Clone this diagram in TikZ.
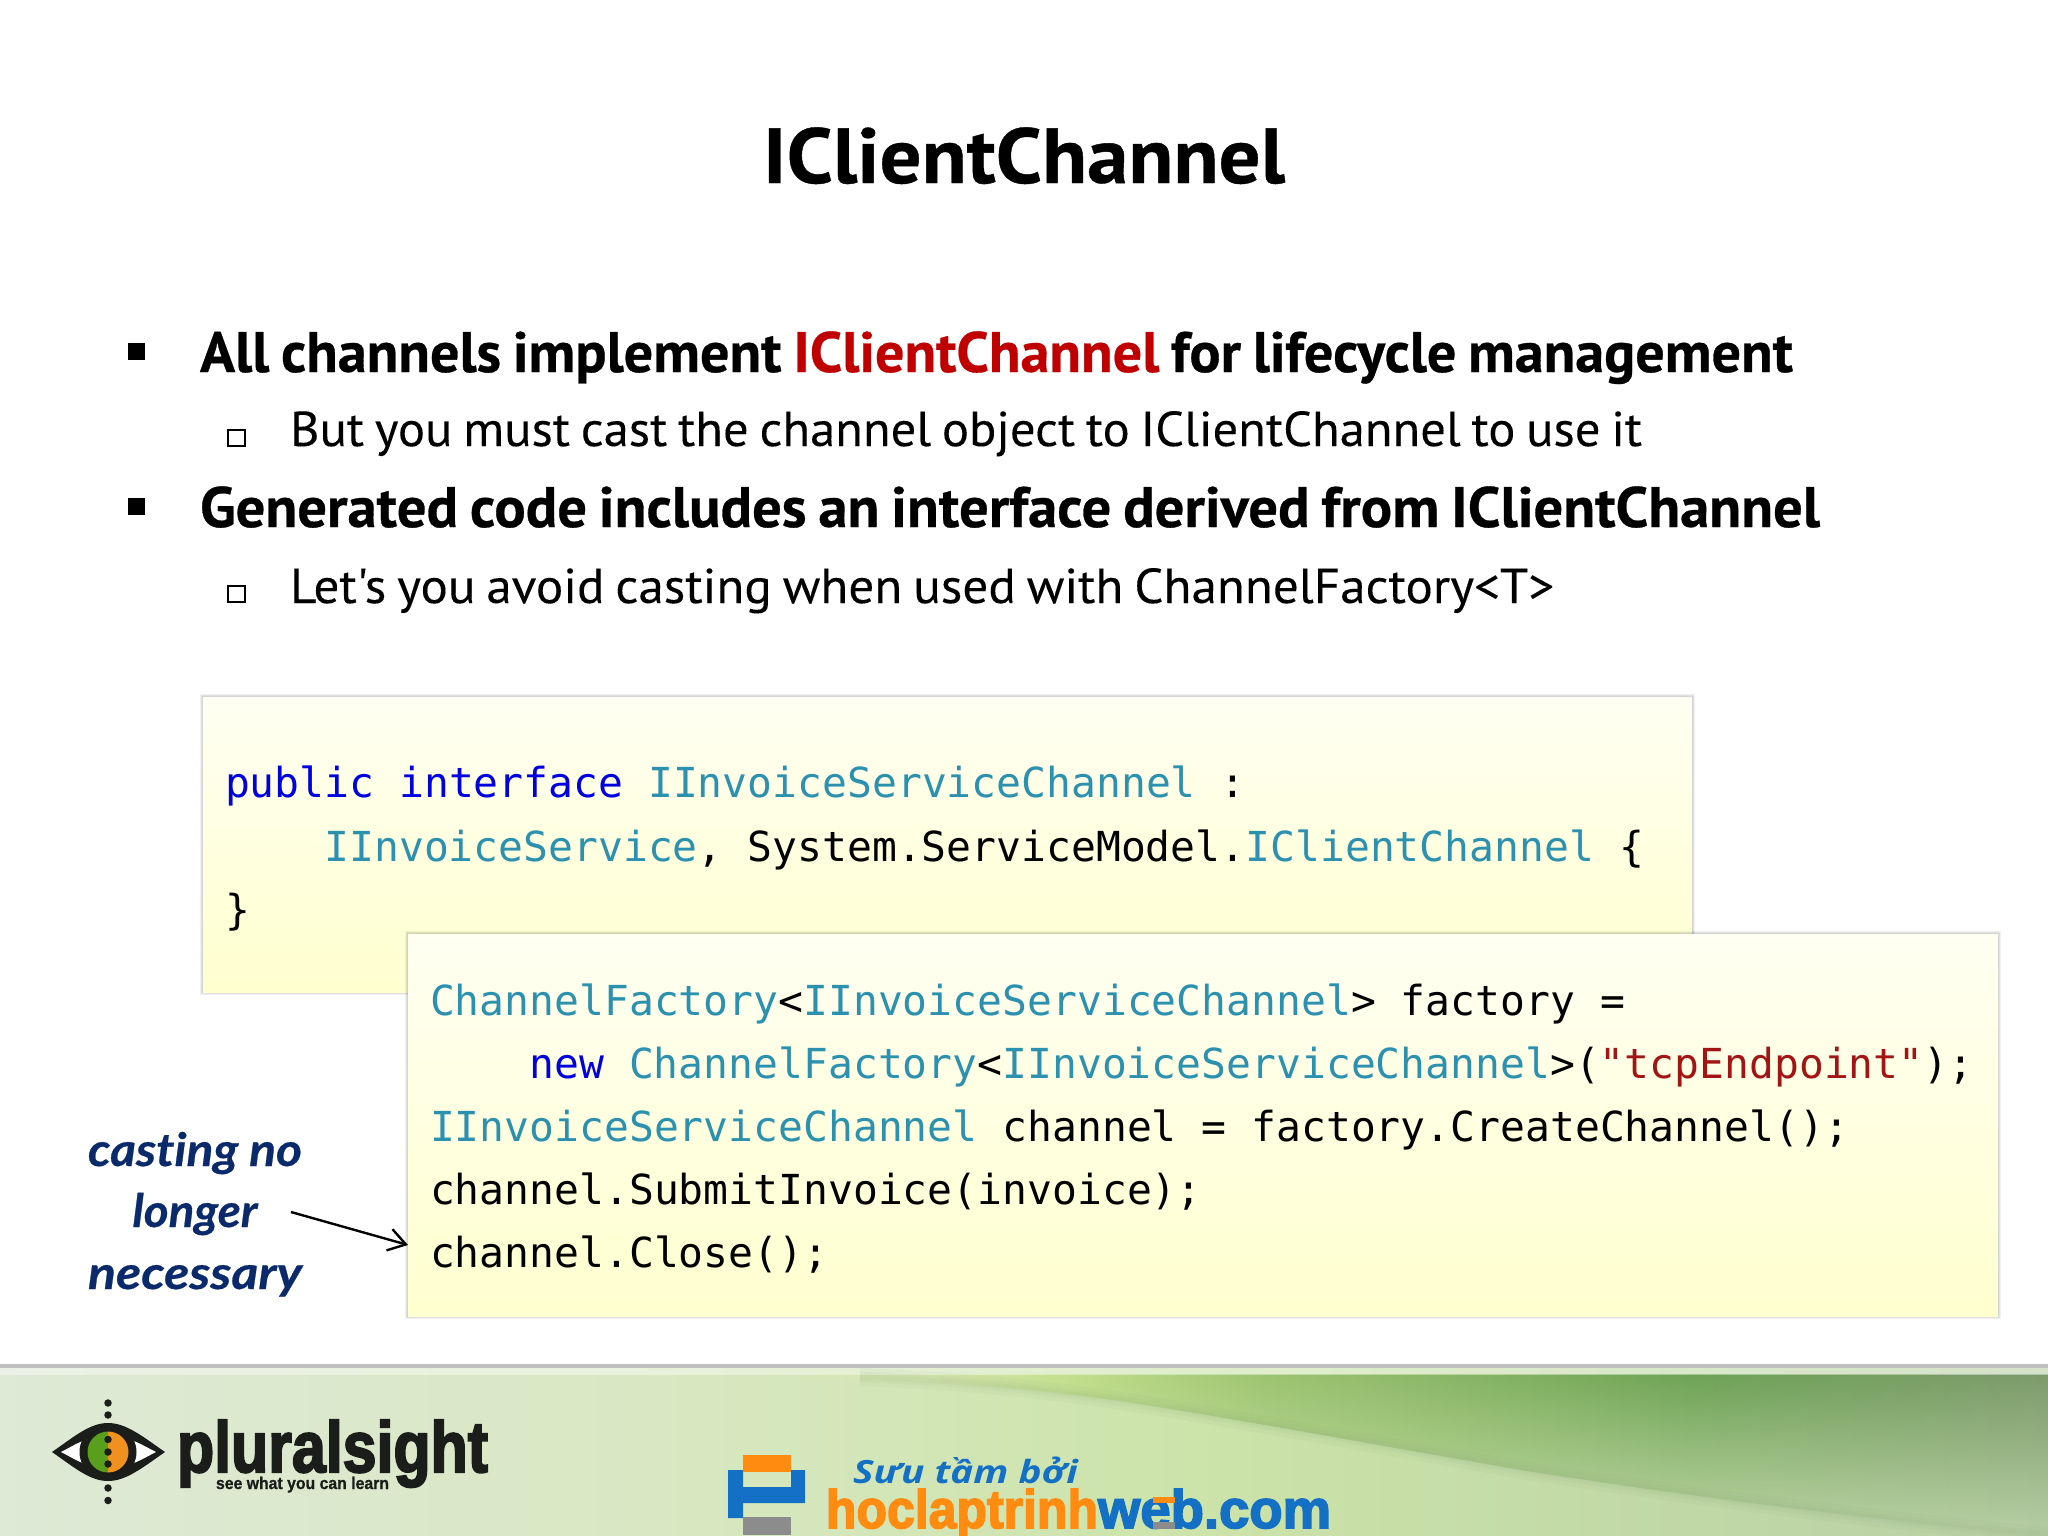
\documentclass[tikz,border=0pt]{standalone}
\usepackage{fontspec}
\usepackage{graphicx}
\usetikzlibrary{arrows.meta,fadings}
\setmainfont[BoldFeatures={FakeBold=0.5},WordSpace=0.8]{PT Sans}
\newfontfamily\subfont[WordSpace=0.8,FakeBold=0.15]{PT Sans}
\newfontfamily\codefont{DejaVu Sans Mono}
\newfontfamily\handfont[Ligatures=NoCommon,BoldItalicFeatures={FakeBold=0.5}]{Lato}
\newfontfamily\logofont[BoldFeatures={FakeBold=3}]{Liberation Sans}
\newfontfamily\tagfont[BoldFeatures={FakeBold=1}]{Liberation Sans}
\newfontfamily\viefont{Open Sans}
\definecolor{kwblue}{HTML}{0000E0}
\definecolor{tyteal}{HTML}{2B91AF}
\definecolor{strred}{HTML}{A31515}
\definecolor{hlred}{HTML}{C00000}
\definecolor{handblue}{HTML}{0B2A6B}
\definecolor{boxtop}{HTML}{FFFFF2}
\definecolor{boxbot}{HTML}{FFFFCF}
\definecolor{logoink}{HTML}{1A1D1A}
\definecolor{hocorange}{HTML}{FF8C10}
\definecolor{hocblue}{HTML}{1470C4}
\definecolor{irisgreen}{HTML}{5A9E1E}
\definecolor{irisorange}{HTML}{F0901E}
\definecolor{fba}{HTML}{DEE9D6}
\definecolor{fbb}{HTML}{D9E8C4}
\definecolor{fbc}{HTML}{CBE3A8}
\definecolor{fbd}{HTML}{B8CFA5}
\definecolor{fsa}{HTML}{D9E8C4}
\definecolor{fsb}{HTML}{D6E8B0}
\definecolor{fsc}{HTML}{C2DE8C}
\definecolor{fsd}{HTML}{9CC470}
\definecolor{fse}{HTML}{6EA356}
\definecolor{fsf}{HTML}{7D9B6C}
\definecolor{swline}{HTML}{8CA87A}
\pgfdeclarehorizontalshading{footbase}{100bp}{color(0bp)=(fba);color(25bp)=(fba);color(40bp)=(fbb);color(55bp)=(fbc);color(75bp)=(fbd);color(100bp)=(fbd)}
\pgfdeclarehorizontalshading{footswoosh}{100bp}{color(0bp)=(fsa);color(25bp)=(fsa);color(35bp)=(fsb);color(40bp)=(fsc);color(47bp)=(fsd);color(62bp)=(fse);color(75bp)=(fsf);color(100bp)=(fsf)}
\tikzset{
  every node/.style={inner sep=0pt,outer sep=0pt},
  codeline/.style={anchor=base west,font=\codefont\fontsize{41.35}{50}\selectfont},
  bigline/.style={anchor=base west,font=\fontsize{57}{60}\selectfont\bfseries},
  subline/.style={anchor=base west,font=\subfont\fontsize{49}{54}\selectfont},
  handline/.style={anchor=base,text=handblue,font=\handfont\bfseries\itshape\fontsize{46}{50}\selectfont},
  codebox/.style={anchor=north west,top color=boxtop,bottom color=boxbot,shading angle=0},
  logodot/.style={circle,fill=logoink,minimum size=7.5pt},
}
\newcommand{\fitw}[2]{\resizebox{#1pt}{\height}{#2}}
\newcommand{\softbox}[4]{\foreach \i in {1,2,3}{\fill[black,opacity=0.06] (#1-\i,#2-\i) rectangle (#3+\i,#4+\i);}}
\newcommand{\swooshcurve}{(860,1377) .. controls (960,1381) and (1030,1388) .. (1100,1398) .. controls (1200,1412) and (1350,1440) .. (1523,1470) .. controls (1650,1490) and (1850,1518) .. (2060,1537)}
\begin{document}
\begin{tikzpicture}[x=1pt,y=-1pt]
\useasboundingbox (0,0) rectangle (2048,1536);
\fill[white] (0,0) rectangle (2048,1536);
% title
\node[anchor=base west,font=\fontsize{78}{84}\selectfont\bfseries] (title) at (763,183) {\fitw{522}{IClientChannel}};
% bullets
\node[fill=black,minimum width=17.5pt,minimum height=17pt,anchor=north west] (b1) at (127.5,343) {};
\node[bigline] (t1) at (200,372) {\fitw{1593}{All channels implement \textcolor{hlred}{IClientChannel} for lifecycle management}};
\node[draw=black,line width=2pt,minimum width=17pt,minimum height=16pt,anchor=north west] (b2) at (228,430) {};
\node[subline] (t2) at (290,446) {\fitw{1352}{But you must cast the channel object to IClientChannel to use it}};
\node[fill=black,minimum width=17.5pt,minimum height=17pt,anchor=north west] (b3) at (127.5,498) {};
\node[bigline] (t3) at (200,527) {\fitw{1620}{Generated code includes an interface derived from IClientChannel}};
\node[draw=black,line width=2pt,minimum width=17pt,minimum height=16pt,anchor=north west] (b4) at (228,586) {};
\node[subline] (t4) at (290,603) {\fitw{1264}{Let's you avoid casting when used with ChannelFactory<T>}};
% code box 1
\softbox{203}{697}{1691.5}{992}
\node[codebox,minimum width=1488.5pt,minimum height=295pt] (box1) at (203,697) {};
\node[codeline,text=kwblue] (c1a) at (225,797) {public interface \textcolor{tyteal}{IInvoiceServiceChannel} \textcolor{black}{:}};
\node[codeline,text=black] (c1b) at (225,861) {\hspace*{99.5pt}\textcolor{tyteal}{IInvoiceService}, System.ServiceModel.\textcolor{tyteal}{IClientChannel} \{};
\node[codeline,text=black] (c1c) at (225,924) {\}};
% code box 2
\softbox{408}{934}{1998}{1316}
\node[codebox,minimum width=1590pt,minimum height=382pt] (box2) at (408,934) {};
\node[codeline,text=tyteal] (c2a) at (430,1015) {ChannelFactory\textcolor{black}{<}IInvoiceServiceChannel\textcolor{black}{> factory =}};
\node[codeline,text=black] (c2b) at (430,1078) {\hspace*{99.5pt}\textcolor{kwblue}{new} \textcolor{tyteal}{ChannelFactory}<\textcolor{tyteal}{IInvoiceServiceChannel}>(\textcolor{strred}{"tcpEndpoint"});};
\node[codeline,text=black] (c2c) at (430,1141) {\textcolor{tyteal}{IInvoiceServiceChannel} channel = factory.CreateChannel();};
\node[codeline,text=black] (c2d) at (430,1204) {channel.SubmitInvoice(invoice);};
\node[codeline,text=black] (c2e) at (430,1267) {channel.Close();};
% hand note
\node[handline] (h1) at (195,1166) {\fitw{214}{casting no}};
\node[handline] (h2) at (195,1227) {\fitw{125}{longer}};
\node[handline] (h3) at (195,1289) {\fitw{214}{necessary}};
\coordinate (arrS) at (291,1212);
\coordinate (arrE) at (408,1245);
\draw[line width=2.4pt,black,-{Straight Barb[length=17pt,width=22pt,line width=2.4pt]}] (arrS) -- (arrE);
% footer
\fill[fill=black!25] (0,1364) rectangle (2048,1368);
\shade[shading=footbase] (0,1368) rectangle (2048,1536);
\shade[shading=footswoosh,path fading=south] (650,1374) .. controls (850,1376) and (1000,1384) .. (1100,1398) .. controls (1200,1412) and (1350,1440) .. (1523,1470) .. controls (1650,1490) and (1850,1518) .. (2060,1537) -- (2060,1374) -- cycle;
\fill[white,opacity=0.4] (0,1368) rectangle (2048,1375);
\foreach \w in {18,10,5}{\draw[swline,opacity=0.07,line width=\w pt] \swooshcurve;}
% pluralsight eye
\fill[logoink] (52,1452) .. controls (75,1436) and (90,1423) .. (108,1423) .. controls (126,1423) and (142,1436) .. (165,1452) .. controls (142,1468) and (126,1481) .. (108,1481) .. controls (90,1481) and (75,1468) .. (52,1452) -- cycle;
\fill[white] (61,1452) .. controls (75,1445) and (85,1437) .. (108,1435) .. controls (131,1437) and (142,1445) .. (156,1452) .. controls (142,1459) and (131,1467) .. (108,1469) .. controls (85,1467) and (75,1459) .. (61,1452) -- cycle;
\fill[logoink] (108,1452) circle (28.5);
\begin{scope}
\clip (108,1452) circle (20.5);
\fill[irisgreen] (86,1430) rectangle (108,1474);
\fill[irisorange] (108,1430) rectangle (130,1474);
\end{scope}
\node[logodot] (d1) at (108,1403) {};
\node[logodot] (d2) at (108,1415) {};
\node[logodot] (d3) at (108,1439.5) {};
\node[logodot] (d4) at (108,1452) {};
\node[logodot] (d5) at (108,1464) {};
\node[logodot] (d6) at (108,1488) {};
\node[logodot] (d7) at (108,1500.5) {};
\node[anchor=base west,text=logoink,font=\logofont\bfseries\fontsize{72}{74}\selectfont] (pl) at (177,1472) {\fitw{311}{pluralsight}};
\node[anchor=base west,text=logoink,font=\tagfont\bfseries\fontsize{17}{18}\selectfont] (pltag) at (216,1489) {\fitw{173}{see what you can learn}};
% hoclaptrinhweb logo
\fill[hocblue] (728,1470) -- (743,1470) -- (743,1487) -- (791,1487) -- (791,1470) -- (805,1470) -- (805,1503) -- (743,1503) -- (743,1518) -- (728,1518) -- cycle;
\fill[hocorange] (743,1455) rectangle (791,1472);
\fill[black!45] (743,1517) rectangle (791,1535);
\node[anchor=base west,text=hocblue,font=\viefont\bfseries\itshape\fontsize{32}{36}\selectfont] (hs) at (853,1483) {\fitw{225}{Sưu tầm bởi}};
\node[anchor=base west,font=\logofont\bfseries\fontsize{54}{56}\selectfont] (hw) at (826,1528) {\fitw{272}{\textcolor{hocorange}{hoclaptrinh}}\fitw{233}{\textcolor{hocblue}{web.com}}};
\fill[hocorange] (1153,1497) rectangle (1175,1503);
\fill[black!45] (1153,1522) rectangle (1175,1529);
\end{tikzpicture}
\end{document}
